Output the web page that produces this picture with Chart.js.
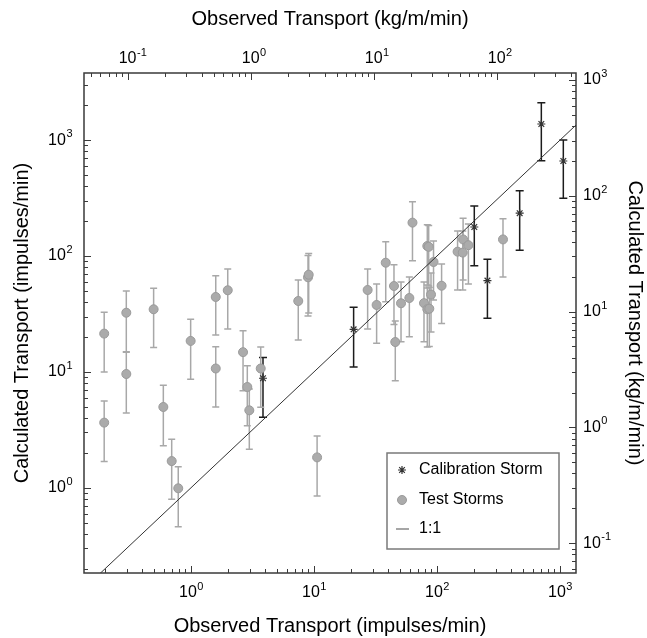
<!DOCTYPE html>
<html>
<head>
<meta charset="utf-8">
<script src="https://cdn.jsdelivr.net/npm/chart.js@4/dist/chart.umd.min.js"></script>
<style>
  html, body { margin: 0; padding: 0; background: #fff; }
  #wrap { width: 647px; height: 638px; }
</style>
</head>
<body>
<div id="wrap"><canvas id="transportChart"></canvas></div>
<script>
// test storms: observed vs calculated (impulses/min), with error bar ends
const testObs  = [0.197, 0.197, 0.298, 0.298, 0.497, 0.994, 0.596, 0.697, 0.788, 1.59, 1.59, 1.99, 2.65, 2.87, 2.98, 3.69, 7.45, 8.94, 9.06, 10.6, 27.3, 32.3, 38.3, 44.7, 45.8, 51.0, 59.6, 63.2, 78.4, 83.4, 86.6, 83.4, 85.6, 89.4, 93.7, 109, 147, 163, 162, 180, 344];
const testCalc = [21.4, 3.65, 32.4, 9.59, 34.7, 18.5, 4.98, 1.70, 0.99, 10.7, 44.3, 50.6, 14.8, 7.41, 4.66, 10.7, 40.9, 65.5, 69.0, 1.83, 50.9, 37.8, 87.5, 55.1, 18.1, 39.1, 43.4, 194, 39.2, 34.7, 35.1, 122, 120, 46.5, 88.8, 55.4, 109, 139, 107, 124, 139];
const testHi   = [32.7, 5.61, 49.9, 14.8, 52.6, 28.4, 7.66, 2.62, 1.52, 16.5, 67.6, 77.2, 22.7, 11.3, 7.12, 16.4, 62.1, 101, 105, 2.80, 77.2, 57.3, 133, 84.1, 27.5, 59.7, 65.9, 294, 59.7, 52.9, 53.5, 186, 183, 71.3, 135, 85.3, 164, 212, 164, 189, 210];
const testLo   = [10.0, 1.69, 14.9, 4.42, 16.2, 8.64, 2.31, 0.796, 0.462, 4.98, 20.8, 23.4, 6.88, 3.43, 2.15, 4.95, 18.8, 30.4, 32.2, 0.85, 23.4, 17.7, 40.3, 25.7, 8.40, 18.2, 20.1, 91.1, 18.2, 16.4, 16.6, 56.2, 55.1, 22.1, 41.7, 26.2, 50.9, 62.1, 50.9, 57.3, 65.9];

// calibration storm
const calObs  = [3.85, 21.0, 201, 257, 470, 705, 1064];
const calCalc = [8.81, 23.3, 178, 61.4, 234, 1377, 660];
const calHi   = [13.3, 36.1, 270, 93.7, 366, 2102, 1002];
const calLo   = [4.06, 11.0, 82.5, 29.0, 112, 664, 315];

const oneToOne = [0.1, 10000];
const decadeTicks = [0.1, 1, 10, 100, 1000];

// axis ranges: impulses/min (bottom, left) and kg/m/min (top, right)
const obsRange = [0.135, 1349];
const calcRange = [0.184, 3793];
const obsKgRange = [0.0442, 441];
const calcKgRange = [0.0553, 1149];

const FONT = '"Liberation Sans", Arial, Helvetica, sans-serif';
Chart.defaults.font.family = FONT;
Chart.defaults.color = '#000';

function onlyDecades(scale) {
  scale.ticks = decadeTicks.filter(v => v >= scale.min && v <= scale.max).map(v => ({ value: v }));
}

function logAxis(position, range, titleText, size, titlePad) {
  return {
    type: 'logarithmic',
    position: position,
    min: range[0],
    max: range[1],
    grid: { display: false, drawTicks: false },
    border: { display: false },
    afterBuildTicks: onlyDecades,
    afterFit: function(scale) {
      if (position === 'left' || position === 'right') scale.width = size;
      else scale.height = size;
    },
    // labels are drawn with a real superscript by the plugin below
    ticks: { display: false, autoSkip: false },
    title: {
      display: true,
      text: titleText,
      font: { size: 20, lineHeight: 1.2 },
      padding: titlePad
    }
  };
}

// "10" plus raised exponent; anchor says which part sits on the tick
function drawDecade(ctx, v, x, y, anchor) {
  const e = String(Math.round(Math.log10(v)));
  ctx.font = '16px ' + FONT;
  const wb = ctx.measureText('10').width;
  ctx.font = '11px ' + FONT;
  const we = ctx.measureText(e).width;
  let x0 = x;
  if (anchor === 'center') x0 = x - (wb + we) / 2;
  if (anchor === 'base') x0 = x - wb / 2;
  if (anchor === 'right') x0 = x - wb - we;
  ctx.textAlign = 'left';
  ctx.textBaseline = 'middle';
  ctx.font = '16px ' + FONT;
  ctx.fillText('10', x0, y);
  ctx.font = '11px ' + FONT;
  ctx.fillText(e, x0 + wb + 0.5, y - 6);
}

// error bars drawn behind the markers
const errorBars = {
  id: 'errorBars',
  beforeDatasetsDraw(chart) {
    const ctx = chart.ctx;
    const xs = chart.scales.x, ys = chart.scales.y;
    chart.data.datasets.forEach(ds => {
      if (!ds.errLo) return;
      ctx.save();
      ctx.strokeStyle = ds.errColor;
      ctx.lineWidth = 1.5;
      ds.data.forEach((p, i) => {
        const x = xs.getPixelForValue(p.x);
        const y1 = ys.getPixelForValue(ds.errHi[i]);
        const y2 = ys.getPixelForValue(ds.errLo[i]);
        const w = ds.capHalf;
        ctx.beginPath();
        ctx.moveTo(x, y1); ctx.lineTo(x, y2);
        ctx.moveTo(x - w, y1); ctx.lineTo(x + w, y1);
        ctx.moveTo(x - w, y2); ctx.lineTo(x + w, y2);
        ctx.stroke();
      });
      ctx.restore();
    });
  }
};

// frame, inward log ticks, decade labels, legend box
const frameAndLegend = {
  id: 'frameAndLegend',
  afterDraw(chart) {
    const ctx = chart.ctx;
    const a = chart.chartArea;
    ctx.save();
    ctx.strokeStyle = '#3a3a3a';
    ctx.lineWidth = 1.5;
    ctx.strokeRect(a.left, a.top, a.right - a.left, a.bottom - a.top);

    ctx.lineWidth = 1;
    ['x', 'x2', 'y', 'y2'].forEach(id => {
      const s = chart.scales[id];
      const lo = Math.floor(Math.log10(s.min)), hi = Math.ceil(Math.log10(s.max));
      ctx.beginPath();
      for (let d = lo; d <= hi; d++) {
        for (let m = 1; m <= 9; m++) {
          const v = m * Math.pow(10, d);
          if (v < s.min || v > s.max) continue;
          const p = Math.round(s.getPixelForValue(v)) + 0.5;
          const len = m === 1 ? 7 : 4;
          if (s.position === 'bottom') { ctx.moveTo(p, a.bottom); ctx.lineTo(p, a.bottom - len); }
          if (s.position === 'top') { ctx.moveTo(p, a.top); ctx.lineTo(p, a.top + len); }
          if (s.position === 'left') { ctx.moveTo(a.left, p); ctx.lineTo(a.left + len, p); }
          if (s.position === 'right') { ctx.moveTo(a.right, p); ctx.lineTo(a.right - len, p); }
        }
      }
      ctx.stroke();

      ctx.fillStyle = '#000';
      s.ticks.forEach(t => {
        const p = s.getPixelForValue(t.value);
        if (s.position === 'bottom') drawDecade(ctx, t.value, p, a.bottom + 20, 'center');
        if (s.position === 'top') drawDecade(ctx, t.value, p, a.top - 14, 'base');
        if (s.position === 'left') drawDecade(ctx, t.value, a.left - 12, p, 'right');
        if (s.position === 'right') drawDecade(ctx, t.value, a.right + 7, p, 'left');
      });
    });

    // legend
    const lx = a.right - 189, ly = a.bottom - 120, lw = 172, lh = 96;
    ctx.fillStyle = '#fff';
    ctx.fillRect(lx, ly, lw, lh);
    ctx.strokeStyle = '#7a7a7a';
    ctx.lineWidth = 1.5;
    ctx.strokeRect(lx, ly, lw, lh);

    const ds = chart.data.datasets;
    const sx = lx + 15, tx = lx + 32;
    ctx.font = '16px ' + FONT;
    ctx.textAlign = 'left';
    ctx.textBaseline = 'middle';

    ctx.strokeStyle = ds[0].borderColor;
    ctx.lineWidth = ds[0].borderWidth;
    Chart.helpers.drawPoint(ctx, { pointStyle: 'star', radius: 4, rotation: 0, borderWidth: ds[0].borderWidth }, sx, ly + 17);
    ctx.fillStyle = '#000';
    ctx.fillText(ds[0].label, tx, ly + 17);

    ctx.fillStyle = ds[1].backgroundColor;
    ctx.strokeStyle = ds[1].borderColor;
    ctx.lineWidth = 1;
    Chart.helpers.drawPoint(ctx, { pointStyle: 'circle', radius: 4.5, rotation: 0, borderWidth: 1 }, sx, ly + 47);
    ctx.fillStyle = '#000';
    ctx.fillText(ds[1].label, tx, ly + 47);

    ctx.strokeStyle = '#888';
    ctx.lineWidth = 1.5;
    ctx.beginPath();
    ctx.moveTo(sx - 6, ly + 76); ctx.lineTo(sx + 7, ly + 76);
    ctx.stroke();
    ctx.fillText(ds[2].label, tx, ly + 76);
    ctx.restore();
  }
};

new Chart(document.getElementById('transportChart'), {
  type: 'scatter',
  data: {
    datasets: [
      {
        label: 'Calibration Storm',
        data: calObs.map((v, i) => ({ x: v, y: calCalc[i] })),
        errLo: calLo, errHi: calHi, errColor: '#1c1c1c', capHalf: 4,
        pointStyle: 'star',
        pointRadius: 4,
        borderColor: '#333',
        borderWidth: 1.2,
        backgroundColor: '#333',
        order: 1
      },
      {
        label: 'Test Storms',
        data: testObs.map((v, i) => ({ x: v, y: testCalc[i] })),
        errLo: testLo, errHi: testHi, errColor: '#a8a8a8', capHalf: 3.5,
        pointStyle: 'circle',
        pointRadius: 4.5,
        backgroundColor: '#ababab',
        borderColor: '#9a9a9a',
        borderWidth: 1,
        order: 2
      },
      {
        label: '1:1',
        data: oneToOne.map(v => ({ x: v, y: v })),
        showLine: true,
        pointRadius: 0,
        borderColor: '#333',
        borderWidth: 1,
        order: 0
      }
    ]
  },
  options: {
    responsive: true,
    maintainAspectRatio: false,
    animation: false,
    layout: { padding: 0, autoPadding: false },
    plugins: {
      legend: { display: false },
      tooltip: { enabled: false }
    },
    scales: {
      x: logAxis('bottom', obsRange, 'Observed Transport (impulses/min)', 65, { top: 0, bottom: 0 }),
      x2: logAxis('top', obsKgRange, 'Observed Transport (kg/m/min)', 73, { top: 7, bottom: 0 }),
      y: logAxis('left', calcRange, 'Calculated Transport (impulses/min)', 84, { top: 10, bottom: 0 }),
      y2: logAxis('right', calcKgRange, 'Calculated Transport (kg/m/min)', 71, { top: 0, bottom: 0 })
    }
  },
  plugins: [errorBars, frameAndLegend]
});
</script>
</body>
</html>
